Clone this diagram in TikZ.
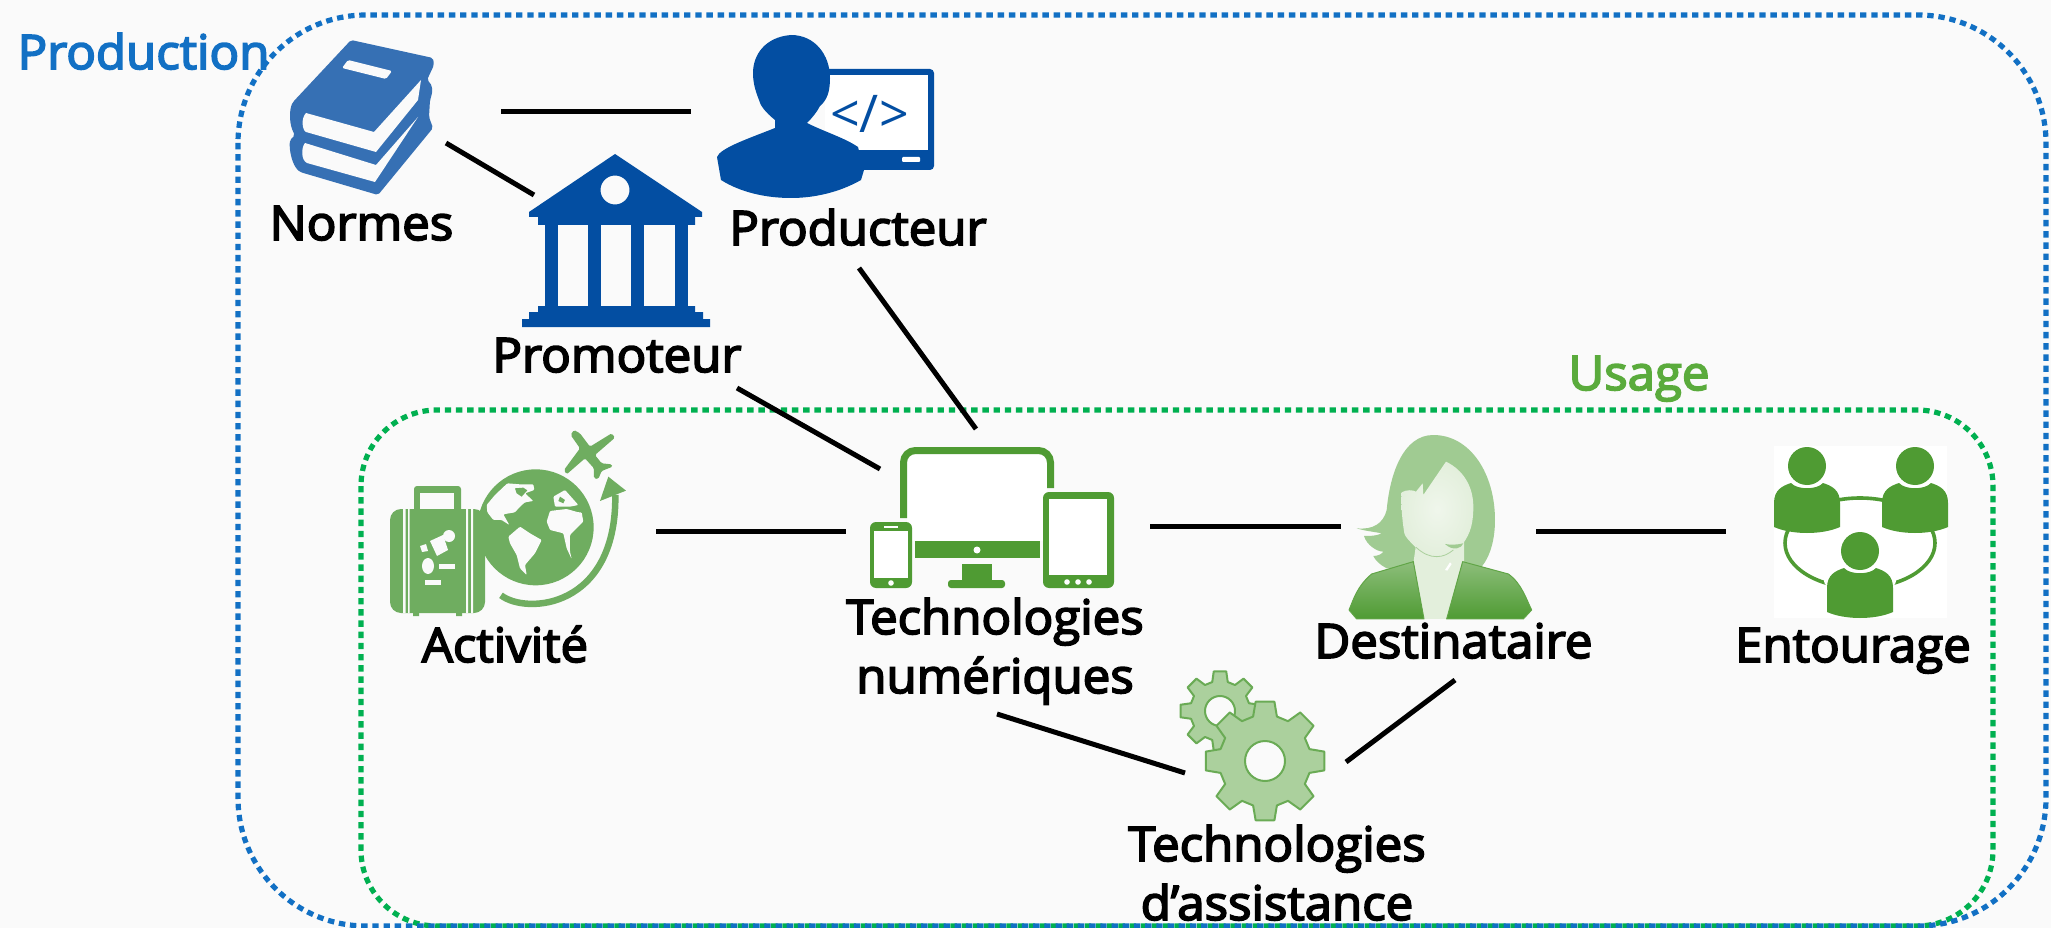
\documentclass[tikz,border=0pt]{standalone}
\usepackage{fontspec}
\newfontfamily\lab[FakeBold=3.6,FakeStretch=1.035]{Open Sans}
\newfontfamily\labreg{Open Sans}
\definecolor{pagebg}{HTML}{FAFAFA}
\definecolor{boxblue}{HTML}{1270C4}
\definecolor{boxgreen}{HTML}{00B050}
\definecolor{navy}{HTML}{034EA2}
\definecolor{bookblue}{HTML}{3670B4}
\definecolor{leaf}{HTML}{4F9B33}
\definecolor{tripgreen}{HTML}{6FAD60}
\definecolor{usagegreen}{HTML}{5AAB3C}
\definecolor{gearfill}{HTML}{ABD09D}
\definecolor{gearline}{HTML}{6AAB55}
\definecolor{hair}{HTML}{A0CB92}
\definecolor{skin}{HTML}{E3EFDC}
\tikzset{
  lbl/.style={font=\lab\fontsize{47.5}{59}\selectfont,anchor=base,inner sep=0pt,align=center,text=black},
  boxline/.style={line width=5.2pt,dash pattern=on 6.4pt off 4.8pt},
  link/.style={line width=5pt,black},
  gearstyle/.style={fill=gearfill,draw=gearline,line width=2pt,even odd rule,line join=round},
}
\newcommand{\entperson}[2]{%
  \begin{scope}[shift={(#1,#2)}]
    \fill[leaf] (-33,20) .. controls (-33,7) and (-25,3) .. (-16,0) .. controls (-10,7) and (10,7) .. (16,0) .. controls (25,3) and (33,7) .. (33,20) -- (33,44) .. controls (15,52) and (-15,52) .. (-33,44) -- cycle;
    \fill[leaf] (0,-17) ellipse[x radius=19,y radius=19];
  \end{scope}}
\newcommand{\gearshape}[6]{% cx cy R r hole style-free
  \path[gearstyle,shift={(#1,#2)}] (-15:#4) \foreach \a in {0,45,...,315}{ -- ({\a-15}:#4) -- ({\a-9}:#3) -- ({\a+9}:#3) -- ({\a+15}:#4)} -- cycle (#5,0) arc[start angle=0,end angle=360,x radius=#5,y radius=#6];}
\begin{document}
\begin{tikzpicture}[x=1pt,y=-1pt]
\useasboundingbox (0,0) rectangle (2051,928);
\fill[pagebg] (0,0) rectangle (2051,928);
% frames
\draw[boxline,boxgreen,rounded corners=76pt] (361,410) rectangle (1993,926);
\draw[boxline,boxblue,rounded corners=128pt] (238,15) rectangle (2046,926);

% books
\fill[bookblue,rounded corners=2pt] (351,40) -- (433,58) -- (434,65) -- (427,80) .. controls (433,85) and (433,92) .. (430,100) -- (429,117) -- (433,128) -- (378,195) -- (300,172) .. controls (292,165) and (289,150) .. (290,140) -- (295,135) .. controls (289,125) and (289,110) .. (293,102) -- cycle;
\fill[pagebg] (306,113) -- (374,132) -- (421,80) -- (418,100) -- (376,152) -- (306,132) .. controls (302,130) and (301,118) .. (306,113) -- cycle;
\fill[pagebg] (305,143) -- (376,165) -- (418,117) -- (375,182) -- (307,163) .. controls (301,160) and (301,148) .. (305,143) -- cycle;
\fill[pagebg,rounded corners=1.5pt] (348,60) -- (392,71) -- (386,79) -- (342,68) -- cycle;

% developer
\fill[navy,rounded corners=4pt] (825,69) -- (934,69) -- (934,170) -- (850,170) -- (825,150) -- cycle;
\fill[white] (825,75) -- (928,75) -- (928,150) -- (825,150) -- cycle;
\fill[white,rounded corners=1pt] (902,157) rectangle (920,162);
\fill[navy] (791,35) .. controls (815,35) and (830,55) .. (830,78) .. controls (830,92) and (827,100) .. (820,106) .. controls (817,112) and (812,118) .. (807,123) .. controls (825,132) and (845,138) .. (858,147) -- (864,170) -- (861,180) .. controls (840,192) and (815,198) .. (791,198) .. controls (765,198) and (740,192) .. (721,180) -- (717,157) .. controls (720,148) and (750,138) .. (775,128) -- (775,120) .. controls (765,112) and (760,105) .. (759,100) .. controls (755,90) and (753,82) .. (753,73) .. controls (753,55) and (765,37) .. (791,35) -- cycle;
\node[font=\labreg\fontsize{52}{60}\selectfont,text=navy,inner sep=0pt] (code) at (869.5,114) {</>};

% bank
\fill[navy,even odd rule] (615,154) -- (702,212) -- (702,217) -- (695,217) -- (695,225) -- (538,225) -- (538,217) -- (529,217) -- (529,212) -- cycle (629.5,190) arc[start angle=0,end angle=360,radius=14.5];
\foreach \xa in {545,588,631,675}{\fill[navy] (\xa,225) rectangle (\xa+13,306);}
\fill[navy] (538,306) rectangle (695,312) (529,312) rectangle (703,319) (522,319) rectangle (710,327);

% trip icon
\fill[tripgreen,rounded corners=3pt] (414,486) rectangle (461,512);
\fill[pagebg] (420,493) rectangle (454,509);
\fill[tripgreen,rounded corners=11pt] (390,509) rectangle (485,613);
\fill[tripgreen] (413,610) rectangle (419,616) (456,610) rectangle (462,616);
\fill[pagebg] (403,509) rectangle (405.5,613) (408,509) rectangle (409.5,613) (466,509) rectangle (468,613) (471,509) rectangle (473,613);
\fill[pagebg] (449,536) ellipse[x radius=6,y radius=6];
\fill[pagebg] (430,541) -- (443,535) -- (448,550) -- (437,556) -- cycle;
\fill[pagebg] (420,546) -- (426,544) -- (428,551) -- (422,552) -- cycle;
\fill[pagebg] (428,566) ellipse[x radius=6,y radius=8];
\fill[pagebg] (439,564) rectangle (455,569);
\fill[pagebg] (425,580) rectangle (441,585);
\begin{scope}[shift={(470,425)},x=0.3333pt,y=-0.3333pt]
  \fill[tripgreen] (197,307) circle[radius=174pt*0.3333];
  \fill[pagebg,rounded corners=1pt] (112,175) -- (150,178) -- (190,178) -- (193,195) -- (165,205) -- (190,228) -- (165,232) -- (150,245) -- (135,262) -- (100,268) -- (118,300) -- (95,285) -- (70,285) -- (52,262) -- (50,240) -- (75,210) -- cycle;
  \fill[tripgreen] (135,190) -- (160,188) -- (172,196) -- (155,215) -- (140,205) -- cycle;
  \fill[pagebg,rounded corners=1pt] (115,335) -- (150,305) -- (180,325) -- (215,345) -- (195,385) -- (165,420) -- (170,450) -- (150,430) -- (140,390) -- (120,355) -- cycle;
  \fill[pagebg,rounded corners=1pt] (230,290) -- (240,258) -- (290,252) -- (325,262) -- (335,262) -- (340,290) -- (300,330) -- (300,380) -- (305,402) -- (290,370) -- (280,325) -- (240,315) -- cycle;
  \fill[pagebg,rounded corners=1pt] (250,215) -- (285,195) -- (325,240) -- (300,245) -- (255,245) -- cycle;
  \fill[tripgreen] (270,215) -- (285,225) -- (280,235) -- (265,228) -- cycle;
  \draw[tripgreen,line width=6.5pt] (93,511) .. controls (170,570) and (440,550) .. (436,210);
  \fill[tripgreen] (415,155) -- (468,197) -- (390,228) -- cycle;
  \fill[tripgreen,rounded corners=1.5pt] (312,15) -- (330,25) -- (360,65) -- (425,25) -- (435,38) -- (375,90) -- (395,115) -- (425,118) -- (428,125) -- (395,138) -- (385,162) -- (372,160) -- (372,130) -- (345,100) -- (290,148) -- (282,135) -- (330,70) -- (302,30) -- cycle;
\end{scope}

% devices
\fill[white] (907,453) rectangle (1047,541);
\draw[leaf,line width=7pt,rounded corners=12pt] (903.5,518) -- (903.5,450.5) -- (1050.5,450.5) -- (1050.5,488);
\fill[leaf] (915,541) rectangle (1040,558);
\fill[white] (977,550) circle[radius=3.5];
\fill[leaf] (962,564) rectangle (992,582);
\fill[leaf,rounded corners=3pt] (948,580) rectangle (1005,588);
\fill[leaf,rounded corners=6pt] (870,522) rectangle (912,588);
\fill[white] (874,531) rectangle (908,578);
\fill[white] (891,583) circle[radius=2.8];
\fill[white] (884,526) rectangle (898,528);
\fill[leaf,rounded corners=6pt] (1043,492) rectangle (1114,588);
\fill[white] (1049,499) rectangle (1107,575);
\foreach \xa in {1067,1078,1089}{\fill[white] (\xa,582) circle[radius=2.8];}

% woman
\begin{scope}[shift={(1340,430)},x=0.3333pt,y=-0.3333pt]
  \fill[hair] (50,295) .. controls (100,300) and (130,280) .. (140,240) .. controls (150,130) and (190,15) .. (280,15) .. controls (390,15) and (465,130) .. (465,270) .. controls (465,330) and (450,380) .. (425,410) -- (140,415) .. controls (120,405) and (105,390) .. (100,378) .. controls (115,378) and (125,372) .. (130,365) .. controls (110,365) and (80,345) .. (72,318) .. controls (90,318) and (110,318) .. (125,310) .. controls (100,305) and (70,302) .. (50,295) -- cycle;
  \fill[skin] (228,345) -- (372,335) -- (372,400) -- (320,567) -- (252,567) -- (220,400) -- cycle;
  \shade[inner color=skin!55!white,outer color=skin] (318,95) .. controls (370,120) and (400,170) .. (400,230) .. controls (400,270) and (395,310) .. (365,345) .. controls (345,365) and (315,380) .. (290,380) .. controls (265,380) and (240,365) .. (225,350) .. controls (210,335) and (195,320) .. (193,310) .. controls (185,260) and (183,220) .. (185,187) .. controls (200,178) and (220,180) .. (228,185) -- (248,160) -- (250,195) -- cycle;
  \draw[gearfill,line width=0.8pt] (228,352) .. controls (250,372) and (270,380) .. (290,380) .. controls (310,380) and (325,372) .. (340,360);
  \fill[hair] (315,342) .. controls (330,345) and (350,345) .. (370,340) .. controls (365,355) and (340,365) .. (315,342) -- cycle;
  \fill[white] (315,420) -- (330,397) -- (335,402) -- (322,422) -- cycle;
  \shadedraw[top color=leaf!65!white,bottom color=leaf,draw=leaf!90!white,line width=1pt,line join=round] (220,395) -- (252,567) -- (50,567) -- (27,540) .. controls (40,510) and (50,470) .. (95,432) -- cycle;
  \shadedraw[top color=leaf!65!white,bottom color=leaf,draw=leaf!90!white,line width=1pt,line join=round] (368,395) -- (320,567) -- (550,567) -- (575,540) .. controls (560,510) and (545,460) .. (505,432) -- cycle;
\end{scope}

% group
\fill[white] (1774,446) rectangle (1947,618);
\draw[leaf,line width=3.6pt] (1860,543) ellipse[x radius=75,y radius=45];
\entperson{1807}{483}
\entperson{1915}{483}
\fill[white] (1860,581) ellipse[x radius=36,y radius=13];
\entperson{1860}{568}

% gears
\gearshape{1220}{711}{40}{30}{15}{15}
\gearshape{1265}{761}{60}{46}{20}{20}

% connector ports
\coordinate (normesR) at (501,112);
\coordinate (producteurL) at (691,112);
\coordinate (normesB) at (446,143);
\coordinate (promoteurT) at (534,195);
\coordinate (producteurB) at (859,268);
\coordinate (numeriquesT) at (976,429);
\coordinate (promoteurB) at (737,388);
\coordinate (numeriquesTL) at (880,469);
\coordinate (activiteR) at (656,531);
\coordinate (numeriquesL) at (846,531);
\coordinate (numeriquesR) at (1150,526);
\coordinate (destinataireL) at (1341,526);
\coordinate (destinataireR) at (1536,531);
\coordinate (entourageL) at (1726,531);
\coordinate (numeriquesB) at (997,714);
\coordinate (assistanceL) at (1185,773);
\coordinate (destinataireB) at (1455,680);
\coordinate (assistanceR) at (1346,762);
\draw[link] (normesR) -- (producteurL);
\draw[link] (normesB) -- (promoteurT);
\draw[link] (producteurB) -- (numeriquesT);
\draw[link] (promoteurB) -- (numeriquesTL);
\draw[link] (activiteR) -- (numeriquesL);
\draw[link] (numeriquesR) -- (destinataireL);
\draw[link] (destinataireR) -- (entourageL);
\draw[link] (numeriquesB) -- (assistanceL);
\draw[link] (destinataireB) -- (assistanceR);

% labels
\node[lbl,text=boxblue] (production) at (143.5,69) {Production};
\node[lbl,text=usagegreen] (usage) at (1639,390) {Usage};
\node[lbl] (normes) at (361.5,240) {Normes};
\node[lbl] (producteur) at (858,245) {Producteur};
\node[lbl] (promoteur) at (617,372) {Promoteur};
\node[lbl] (activite) at (505,662) {Activité};
\node[lbl] (numeriques) at (995,693) {Technologies\\numériques};
\node[lbl] (destinataire) at (1453.5,658) {Destinataire};
\node[lbl] (entourage) at (1853,662) {Entourage};
\node[lbl] (assistance) at (1277,920) {Technologies\\d’assistance};
\end{tikzpicture}
\end{document}
